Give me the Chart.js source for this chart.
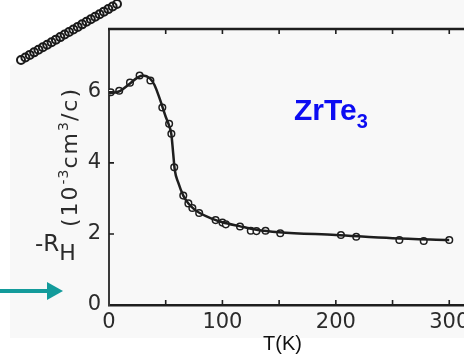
<!DOCTYPE html>
<html>
<head>
<meta charset="utf-8">
<script src="https://cdn.jsdelivr.net/npm/chart.js@4.4.0/dist/chart.umd.min.js"></script>
<style>
  html, body { margin: 0; padding: 0; background: #fff; }
  #wrap { position: relative; width: 464px; height: 357px; overflow: hidden; }
  #scan { position: absolute; left: 0; top: 0; width: 464px; height: 338px; background: #f8f8f8;
          clip-path: polygon(10px 338px, 10px 66px, 120px 0, 464px 0, 464px 338px); }
  #chart { position: absolute; left: 0; top: 0; }
  .lbl { position: absolute; font-family: 'DejaVu Sans', sans-serif; color: #2b2b2b; white-space: nowrap; line-height: 1; }
  #rh { left: 35px; top: 232px; font-size: 23px; }
  #rh span { position: relative; top: 9px; font-size: 22px; }
  #unit { left: 68px; top: 157px; font-size: 22px; letter-spacing: 2px; transform: translate(-50%, -50%) rotate(-90deg); }
  #unit sup { font-size: 14px; letter-spacing: 1px; vertical-align: 9px; }
  #tk { left: 263px; top: 333px; font-family: 'Liberation Sans', Arial, sans-serif; font-size: 20px; color: #111; }
  #formula { left: 294px; top: 95px; font-family: 'Liberation Sans', Arial, sans-serif; font-weight: bold; font-size: 30px; color: #0c0cf2; }
  #formula sub { font-size: 20px; vertical-align: -8px; }
</style>
</head>
<body>
<div id="wrap">
  <div id="scan"></div>
  <canvas id="chart" width="464" height="357"></canvas>
  <div class="lbl" id="rh">-R<span>H</span></div>
  <div class="lbl" id="unit">(10<sup>-3</sup>cm<sup>3</sup>/c)</div>
  <div class="lbl" id="tk">T(K)</div>
  <div class="lbl" id="formula">ZrTe<sub>3</sub></div>
</div>
<script>
// measured points: temperature (K) and -R_H (10^-3 cm^3/C)
const T_MEAS  = [1.5, 9, 18.5, 27, 36.5, 47, 53, 55, 57.5, 65.5, 70, 73.5, 79.5, 94, 100, 103, 115.5, 125, 130, 138, 151, 204.5, 218, 256, 277.5, 300];
const RH_MEAS = [5.99, 6.03, 6.26, 6.46, 6.32, 5.56, 5.10, 4.82, 3.88, 3.08, 2.86, 2.73, 2.59, 2.39, 2.32, 2.27, 2.21, 2.09, 2.08, 2.09, 2.02, 1.97, 1.92, 1.83, 1.80, 1.83];

// hand-drawn guide curve through the data
const T_FIT  = [0, 5, 10, 18, 25, 30, 36, 40, 45, 50, 53, 55, 56.5, 58, 61, 65.5, 70, 75, 80, 90, 100, 115, 130, 150, 200, 250, 300];
const RH_FIT = [5.96, 5.98, 6.03, 6.22, 6.40, 6.46, 6.38, 6.2, 5.78, 5.3, 5.05, 4.8, 4.3, 3.8, 3.45, 3.08, 2.86, 2.70, 2.59, 2.44, 2.33, 2.22, 2.12, 2.05, 1.97, 1.88, 1.83];

const X_TICKS = [0, 100, 200, 300];
const X_MINOR = [50, 100, 150, 200, 250, 300];
const Y_TICKS = [0, 2, 4, 6];

const toXY = (xs, ys) => xs.map((t, i) => ({ x: t, y: ys[i] }));

// top edge of the frame plus the short inward tick marks
const frame = {
  id: 'frame',
  afterDraw(chart) {
    const { ctx, chartArea: a, scales: { x, y } } = chart;
    ctx.save();
    ctx.strokeStyle = '#1e1e1e';
    ctx.lineWidth = 2.5;
    ctx.beginPath();
    ctx.moveTo(a.left - 1, a.top);
    ctx.lineTo(a.right, a.top);
    ctx.stroke();

    ctx.lineWidth = 1.6;
    ctx.beginPath();
    X_MINOR.forEach(v => {
      const px = x.getPixelForValue(v);
      ctx.moveTo(px, a.bottom); ctx.lineTo(px, a.bottom - 5);
      ctx.moveTo(px, a.top);    ctx.lineTo(px, a.top + 5);
    });
    Y_TICKS.forEach(v => {
      if (v === 0) return;
      const py = y.getPixelForValue(v);
      ctx.moveTo(a.left, py); ctx.lineTo(a.left + 5, py);
    });
    ctx.stroke();
    ctx.restore();
  }
};

// coiled wire in the corner and the teal pointer arrow
const decor = {
  id: 'decor',
  afterDraw(chart) {
    const ctx = chart.ctx;
    ctx.save();
    ctx.strokeStyle = '#1a1a1a';
    ctx.lineWidth = 2;
    const n = 23, x0 = 21, y0 = 60, x1 = 117, y1 = 4;
    for (let i = 0; i < n; i++) {
      const f = i / (n - 1);
      ctx.beginPath();
      ctx.arc(x0 + (x1 - x0) * f, y0 + (y1 - y0) * f, 4, 0, Math.PI * 2);
      ctx.stroke();
    }

    ctx.strokeStyle = '#139b9b';
    ctx.fillStyle = '#139b9b';
    ctx.lineWidth = 4;
    ctx.beginPath();
    ctx.moveTo(0, 291); ctx.lineTo(50, 291);
    ctx.stroke();
    ctx.beginPath();
    ctx.moveTo(47, 282); ctx.lineTo(63, 291); ctx.lineTo(47, 300);
    ctx.closePath();
    ctx.fill();
    ctx.restore();
  }
};

const tickFont = { family: 'DejaVu Sans', size: 21 };

new Chart(document.getElementById('chart'), {
  type: 'scatter',
  data: {
    datasets: [{
      data: toXY(T_FIT, RH_FIT),
      showLine: true,
      cubicInterpolationMode: 'monotone',
      borderColor: '#1e1e1e',
      borderWidth: 2.5,
      pointRadius: 0
    }, {
      data: toXY(T_MEAS, RH_MEAS),
      showLine: false,
      pointRadius: 3.3,
      pointBorderWidth: 1.5,
      pointBorderColor: '#1e1e1e',
      pointBackgroundColor: '#ffffff'
    }]
  },
  options: {
    responsive: false,
    animation: false,
    events: [],
    layout: { autoPadding: false, padding: { top: 29, left: 0, right: 0, bottom: 0 } },
    plugins: { legend: { display: false }, tooltip: { enabled: false } },
    scales: {
      x: {
        type: 'linear',
        min: 0,
        max: 313,
        afterBuildTicks: s => { s.ticks = X_TICKS.map(v => ({ value: v })); },
        afterFit: s => { s.height = 52; s.paddingLeft = 0; s.paddingRight = 0; },
        grid: { display: false, drawTicks: false },
        border: { display: true, color: '#1e1e1e', width: 2.5 },
        ticks: { color: '#2b2b2b', font: tickFont, padding: 5, maxRotation: 0 }
      },
      y: {
        type: 'linear',
        min: 0,
        max: 7.77,
        afterBuildTicks: s => { s.ticks = Y_TICKS.map(v => ({ value: v })); },
        afterFit: s => { s.width = 109; s.paddingTop = 0; s.paddingBottom = 0; },
        grid: { display: false, drawTicks: false },
        border: { display: true, color: '#3a3a3a', width: 2 },
        ticks: { color: '#2b2b2b', font: tickFont, padding: 8 }
      }
    }
  },
  plugins: [frame, decor]
});
</script>
</body>
</html>
